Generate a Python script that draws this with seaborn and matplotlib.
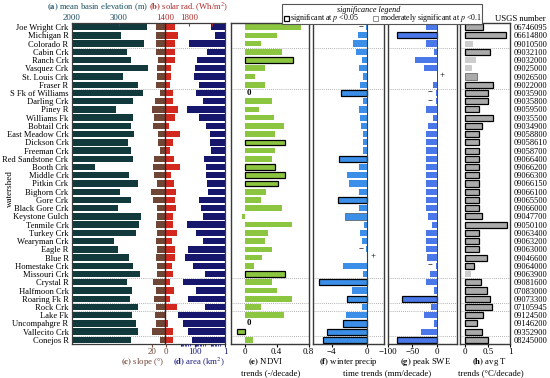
import numpy as np
import pandas as pd
import matplotlib
matplotlib.use("Agg")
import matplotlib.pyplot as plt
import seaborn as sns
from matplotlib.patches import Rectangle
from matplotlib.ticker import NullFormatter

# watershed list (top to bottom) and USGS gauges
watersheds = ["Joe Wright Crk", "Michigan R", "Colorado R", "Cabin Crk", "Ranch Crk",
              "Vasquez Crk", "St. Louis Crk", "Fraser R", "S Fk of Williams", "Darling Crk",
              "Piney R", "Williams Fk", "Bobtail Crk", "East Meadow Crk", "Dickson Crk",
              "Freeman Crk", "Red Sandstone Crk", "Booth Crk", "Middle Crk", "Pitkin Crk",
              "Bighorn Crk", "Gore Crk", "Black Gore Crk", "Keystone Gulch", "Tenmile Crk",
              "Turkey Crk", "Wearyman Crk", "Eagle R", "Blue R", "Homestake Crk",
              "Missouri Crk", "Crystal R", "Halfmoon Crk", "Roaring Fk R", "Rock Crk",
              "Lake Fk", "Uncompahgre R", "Vallecito Crk", "Conejos R"]
usgs = ["06746095", "06614800", "09010500", "09032100", "09032000", "09025000", "09026500",
        "09022000", "09035900", "09035800", "09059500", "09035500", "09034900", "09058800",
        "09058610", "09058700", "09066400", "09066200", "09066300", "09066150", "09066100",
        "09065500", "09066000", "09047700", "09050100", "09063400", "09063200", "09063000",
        "09046600", "09064000", "09063900", "09081600", "07083000", "09073300", "07105945",
        "09124500", "09146200", "09352900", "08245000"]

elevation = [3590, 3035, 3530, 3175, 3255, 3615, 3085, 3405, 3505, 3300, 2930, 3300, 3260,
             3320, 3185, 3255, 3305, 2490, 3205, 3410, 3020, 3260, 2970, 3470, 3425, 3360, 2895,
             2985, 3215, 3305, 3455, 3165, 3285, 3235, 3410, 3285, 3360, 3405, 3255]
solar = [1570, 1620, 1565, 1570, 1565, 1500, 1495, 1480, 1525, 1525, 1620, 1565, 1455,
         1655, 1535, 1485, 1540, 1655, 1490, 1545, 1580, 1555, 1580, 1520, 1525, 1600, 1505,
         1570, 1555, 1515, 1525, 1480, 1540, 1480, 1600, 1410, 1440, 1535, 1530]
slope = [13.8, 13.8, 14.4, 14.8, 11.4, 12.3, 12.3, 14.8, 8.9, 16.3, 19.7, 17.3, 18.2,
         10.4, 11.4, 8.9, 17.3, 18.8, 17.3, 12.3, 21.2, 18.2, 12.3, 13.3, 14.8, 13.3, 14.4,
         12.3, 14.8, 11.9, 13.3, 18.2, 14.8, 17.3, 14.8, 15.8, 14.4, 20.7, 7.9]
area = [9, 4.6, 240, 15, 70, 100, 117, 57, 90, 28, 325, 54, 18.5,
        10, 10.5, 9, 24, 19.5, 19.5, 16.6, 14, 52, 42, 31, 357, 86, 31,
        280, 464, 130, 21.5, 660, 86, 280, 21.5, 1440, 600, 280, 150]

ndvi = [0.70, 0.40, 0.205, 0.47, 0.60, 0.255, 0.12, 0.255, 0.0, 0.335, 0.18, 0.37, 0.495,
        0.38, 0.50, 0.38, 0.335, 0.38, 0.50, 0.42, 0.27, 0.20, 0.47, -0.035, 0.595, 0.285, 0.25,
        0.335, 0.21, 0.115, 0.50, 0.335, 0.40, 0.595, 0.20, 0.495, 0.0, -0.10, 0.105]
precip = [-0.1, -1.03, -1.53, -1.26, -0.57, -0.84, -0.38, -0.76, -2.94, -0.46, -0.91, -0.76, -0.65,
          -0.46, -0.46, -0.46, -3.13, -0.88, -2.21, -1.98, -0.91, -3.24, -0.88, -2.44, -0.27, -0.76, -0.57,
          -0.1, 0.15, -2.74, -0.46, -5.41, -1.71, -2.29, -0.54, -2.37, -2.67, -4.57, -4.96]
swe = [-23, -81, -23, -6, -45, -26, 0.5, -7.5, -1.5, -1.5, -22, -7.5, -19,
       -22, -22, -22, -22, -22, -22, -22, -22, -22, -22, -17.7, -11, -22, -22,
       -22, -20, -2, -14, -23, -5.5, -72, -12, -26.5, -6, -33, -82]
temp = [0.39, 0.90, 0.17, 0.55, 0.235, 0.16, 0.26, 0.61, 0.50, 0.50, 0.31, 0.61, 0.38,
        0.31, 0.31, 0.31, 0.31, 0.31, 0.31, 0.31, 0.31, 0.31, 0.31, 0.38, 0.92, 0.31, 0.31,
        0.31, 0.48, 0.20, 0.13, 0.35, 0.48, 0.55, 0.59, 0.40, 0.26, 0.37, 0.51]

# significance: 2 = p<0.05, 1 = p<0.1, 0 = none
ndvi_sig = [0] * 39
for i in [4, 14, 17, 18, 19, 30, 37]:
    ndvi_sig[i] = 2
precip_sig = [0] * 39
for i in [8, 16, 21, 31, 33, 36, 37, 38]:
    precip_sig[i] = 2
precip_sig[23] = 1
swe_sig = [0] * 39
for i in [1, 33, 38]:
    swe_sig[i] = 2
temp_sig = [2] * 39
for i in [2, 4, 5, 30]:
    temp_sig[i] = 0
temp_sig[6] = 1

# small text marks next to near-zero trends
ndvi_note = [""] * 39
ndvi_note[8] = "0"
ndvi_note[36] = "0"
precip_note = [""] * 39
precip_note[0] = "\u2212"
precip_note[27] = "\u2212"
precip_note[28] = "+"
swe_note = [""] * 39
swe_note[6] = "+"
for i in [8, 9, 29]:
    swe_note[i] = "\u2212"

group_breaks = [3, 8, 31, 34, 35, 38]

df = pd.DataFrame({"watershed": watersheds, "elev": elevation, "slope": slope,
                   "ndvi": ndvi, "precip": precip, "swe": swe, "temp": temp})
n = len(watersheds)

plt.rcParams['font.family'] = ['Liberation Serif', 'DejaVu Serif']
plt.rcParams['font.size'] = 6.3
plt.rcParams['mathtext.fontset'] = 'stix'
plt.rcParams['axes.linewidth'] = 0.9

teal = '#1b4f5f'
red_txt = '#b02a2a'
brown = '#6f4636'
navy = '#1c1c80'
frame = '#3a3a3a'

W, H = 550, 378
fig = plt.figure(figsize=(5.5, 3.78), dpi=100)


def rect(x0, x1, y0=23, y1=344):
    return [x0 / W, 1 - y1 / H, (x1 - x0) / W, (y1 - y0) / H]


def breaks(ax):
    for k in group_breaks:
        ax.axhline(k - 0.5, color='#999999', ls=(0, (1, 1.5)), lw=0.6, zorder=0.5)


def style_edges(ax, sig):
    for p, s in zip(ax.patches, sig):
        if s == 2:
            p.set_edgecolor('black'); p.set_linewidth(0.9)
        elif s == 1:
            p.set_edgecolor('#555555'); p.set_linewidth(0.5)
        else:
            p.set_linewidth(0)


# ---- combined panel (a)-(d) ----
left_rect = rect(72, 225)
ax_a = fig.add_axes(left_rect)
sns.barplot(data=df, x="elev", y="watershed", orient="h", color='#123a3c', saturation=1,
            width=0.78, errorbar=None, ax=ax_a)
ax_a.set_xlim(2000, 5255)
ax_a.set_ylim(n - 0.5, -0.5)
breaks(ax_a)
ax_a.set_xlabel('')
ax_a.set_ylabel('')
ax_a.xaxis.tick_top()
ax_a.set_xticks([2000, 3000])
ax_a.set_xticklabels(['2000', '3000'])
ax_a.tick_params(axis='x', direction='in', length=2.5, pad=1.0, colors=teal, labelsize=6.4)
ax_a.tick_params(axis='y', length=0, pad=2.5, labelsize=6.1)
for s in ax_a.spines.values():
    s.set_color(frame)

ax_d = fig.add_axes(left_rect)
ax_d.patch.set_visible(False)
ax_d.barh(range(n), np.array(area) - 1, left=1, height=0.78, color='#16166c')
ax_d.set_xscale('log')
ax_d.set_xlim(10 ** 10.2, 1)
ax_d.set_ylim(n - 0.5, -0.5)
ax_d.set_xticks([100, 1])
ax_d.set_xticklabels(['100', '1'])
minors = [m * 10 ** e for e in range(0, 3) for m in range(2, 10)]
ax_d.set_xticks(minors, minor=True)
ax_d.xaxis.set_minor_formatter(NullFormatter())
ax_d.tick_params(axis='x', which='both', direction='out', length=2, pad=1, colors=navy,
                 labelsize=6.5)
ax_d.tick_params(axis='x', which='minor', length=1.3)
ax_d.tick_params(axis='y', left=False, labelleft=False)
for s in ax_d.spines.values():
    s.set_visible(False)

ax_c = fig.add_axes(left_rect)
ax_c.patch.set_visible(False)
sns.barplot(data=df, x="slope", y="watershed", orient="h", color='#6f4636', saturation=1,
            width=0.78, errorbar=None, ax=ax_c)
ax_c.set_xlim(138.5, -88.1)
ax_c.set_ylim(n - 0.5, -0.5)
ax_c.set_xlabel('')
ax_c.set_ylabel('')
ax_c.set_xticks([20, 0])
ax_c.set_xticklabels(['20', '0'])
ax_c.tick_params(axis='x', direction='out', length=2, pad=1, colors=brown, labelsize=6.5)
ax_c.tick_params(axis='y', left=False, labelleft=False)
for s in ax_c.spines.values():
    s.set_visible(False)

ax_b = fig.add_axes(left_rect)
ax_b.patch.set_visible(False)
ax_b.barh(range(n), np.array(solar) - 1400, left=1400, height=0.78, color='#d2281e')
ax_b.axvline(1400, color='#4a1818', lw=1.0)
ax_b.set_xlim(-191, 2413)
ax_b.set_ylim(n - 0.5, -0.5)
ax_b.xaxis.tick_top()
ax_b.set_xticks([1400, 1800, 2200])
ax_b.set_xticklabels(['1400', '1800', ''])
ax_b.tick_params(axis='x', direction='in', length=2.5, pad=1.0, colors=red_txt, labelsize=6.4)
ax_b.tick_params(axis='y', left=False, labelleft=False)
for s in ax_b.spines.values():
    s.set_visible(False)


# ---- trend panels (e)-(h) ----
def trend_panel(x0, x1, col, color, sig, xlim, ticks, labels, width=0.76):
    ax = fig.add_axes(rect(x0, x1))
    sns.barplot(data=df, x=col, y="watershed", orient="h", color=color, saturation=1,
                width=width, errorbar=None, ax=ax)
    style_edges(ax, sig)
    ax.set_xlim(*xlim)
    ax.set_ylim(n - 0.5, -0.5)
    breaks(ax)
    ax.set_xlabel('')
    ax.set_ylabel('')
    ax.set_xticks(ticks)
    ax.set_xticklabels(labels)
    ax.tick_params(axis='x', direction='out', length=2, pad=1, labelsize=6.5)
    ax.tick_params(axis='y', left=False, labelleft=False)
    for s in ax.spines.values():
        s.set_color(frame)
        s.set_linewidth(1.0)
    return ax


ax_e = trend_panel(230.7, 308.5, "ndvi", '#8cc540', ndvi_sig, (-0.18, 0.8),
                   [0, 0.4, 0.8], ['0', '0.4', '0.8'], width=0.68)
ax_f = trend_panel(313.3, 384.3, "precip", '#3b8fe8', precip_sig, (-6.1, 2.0),
                   [-4, 0], ['\u22124', '0'])
ax_g = trend_panel(388, 456.5, "swe", '#4a78e8', swe_sig, (-100, 40),
                   [-100, -50, 0], ['\u2212100', '\u221250', '0'])
ax_h = trend_panel(460, 510.5, "temp", '#aaaaaa', temp_sig, (-0.11, 1.0),
                   [0, 0.5, 1], ['0', '0.5', '1'], width=0.74)
for p, s in zip(ax_h.patches, temp_sig):
    if s == 0:
        p.set_facecolor('#cdcdcd')

ax_f.axvline(0, color='#1d4a66', lw=0.8)
ax_g.axvline(0, color='#444444', lw=0.7)

for i, t in enumerate(ndvi_note):
    if t:
        ax_e.text(0.02, i, t, ha='left', va='center', fontsize=6.3, fontweight='bold')
for i, t in enumerate(precip_note):
    if t:
        off = 0.7 if t == '+' else -0.7
        ax_f.text(off, i - 0.15, t, ha='center', va='center', fontsize=6.3)
for i, t in enumerate(swe_note):
    if t:
        off = 10 if t == '+' else -14
        ax_g.text(off, i - 0.15, t, ha='center', va='center', fontsize=6.3)

# USGS numbers on the right
ax_h.yaxis.tick_right()
ax_h.set_yticks(range(n))
ax_h.set_yticklabels(usgs)
ax_h.tick_params(axis='y', right=False, labelright=True, length=0, pad=2.6, labelsize=6.0)


# ---- figure texts ----
def ftext(x, y, s, **kw):
    fig.text(x / W, 1 - y / H, s, ha=kw.pop('ha', 'center'), va='center', **kw)


ftext(98, 7, r"$\mathbf{(a)}$ mean basin elevation (m)", color=teal, fontsize=6.2)
ftext(188.5, 7, r"$\mathbf{(b)}$ solar rad. (Wh/m$^2$)", color=red_txt, fontsize=6.2)
ftext(143, 362, r"$\mathbf{(c)}$ slope (°)", color=brown)
ftext(199, 362, r"$\mathbf{(d)}$ area (km$^2$)", color=navy)
ftext(266, 362, r"$\mathbf{(e)}$ NDVI")
ftext(271, 373.5, "trends (-/decade)")
ftext(348, 362, r"$\mathbf{(f)}$ winter precip")
ftext(426, 362, r"$\mathbf{(g)}$ peak SWE")
ftext(387, 373.5, "time trends (mm/decade)")
ftext(489, 362, r"$\mathbf{(h)}$ avg T")
ftext(491, 373.5, "trends (°C/decade)")
ftext(520, 19.3, "USGS number", fontsize=6.2)
fig.text(10 / W, 1 - 189 / H, "watershed", rotation=90, ha='center', va='center', fontsize=6.5)

# significance legend
fig.add_artist(Rectangle((282 / W, 1 - 24 / H), 200 / W, 20 / H, transform=fig.transFigure,
                         facecolor='white', edgecolor='#555555', lw=0.8))
ftext(369, 10.5, "significance legend", style='italic', fontsize=5.9)
fig.add_artist(Rectangle((283.5 / W, 1 - 21 / H), 5 / W, 5.5 / H, transform=fig.transFigure,
                         facecolor='white', edgecolor='black', lw=0.9))
ftext(290, 18.3, r"significant at $p$ <0.05", ha='left', fontsize=5.7)
fig.add_artist(Rectangle((373 / W, 1 - 21 / H), 5 / W, 5.5 / H, transform=fig.transFigure,
                         facecolor='white', edgecolor='#666666', lw=0.5))
ftext(380, 18.3, r"moderately significant at $p$ <0.1", ha='left', fontsize=5.7)

fig.savefig("out.png", dpi=100)
